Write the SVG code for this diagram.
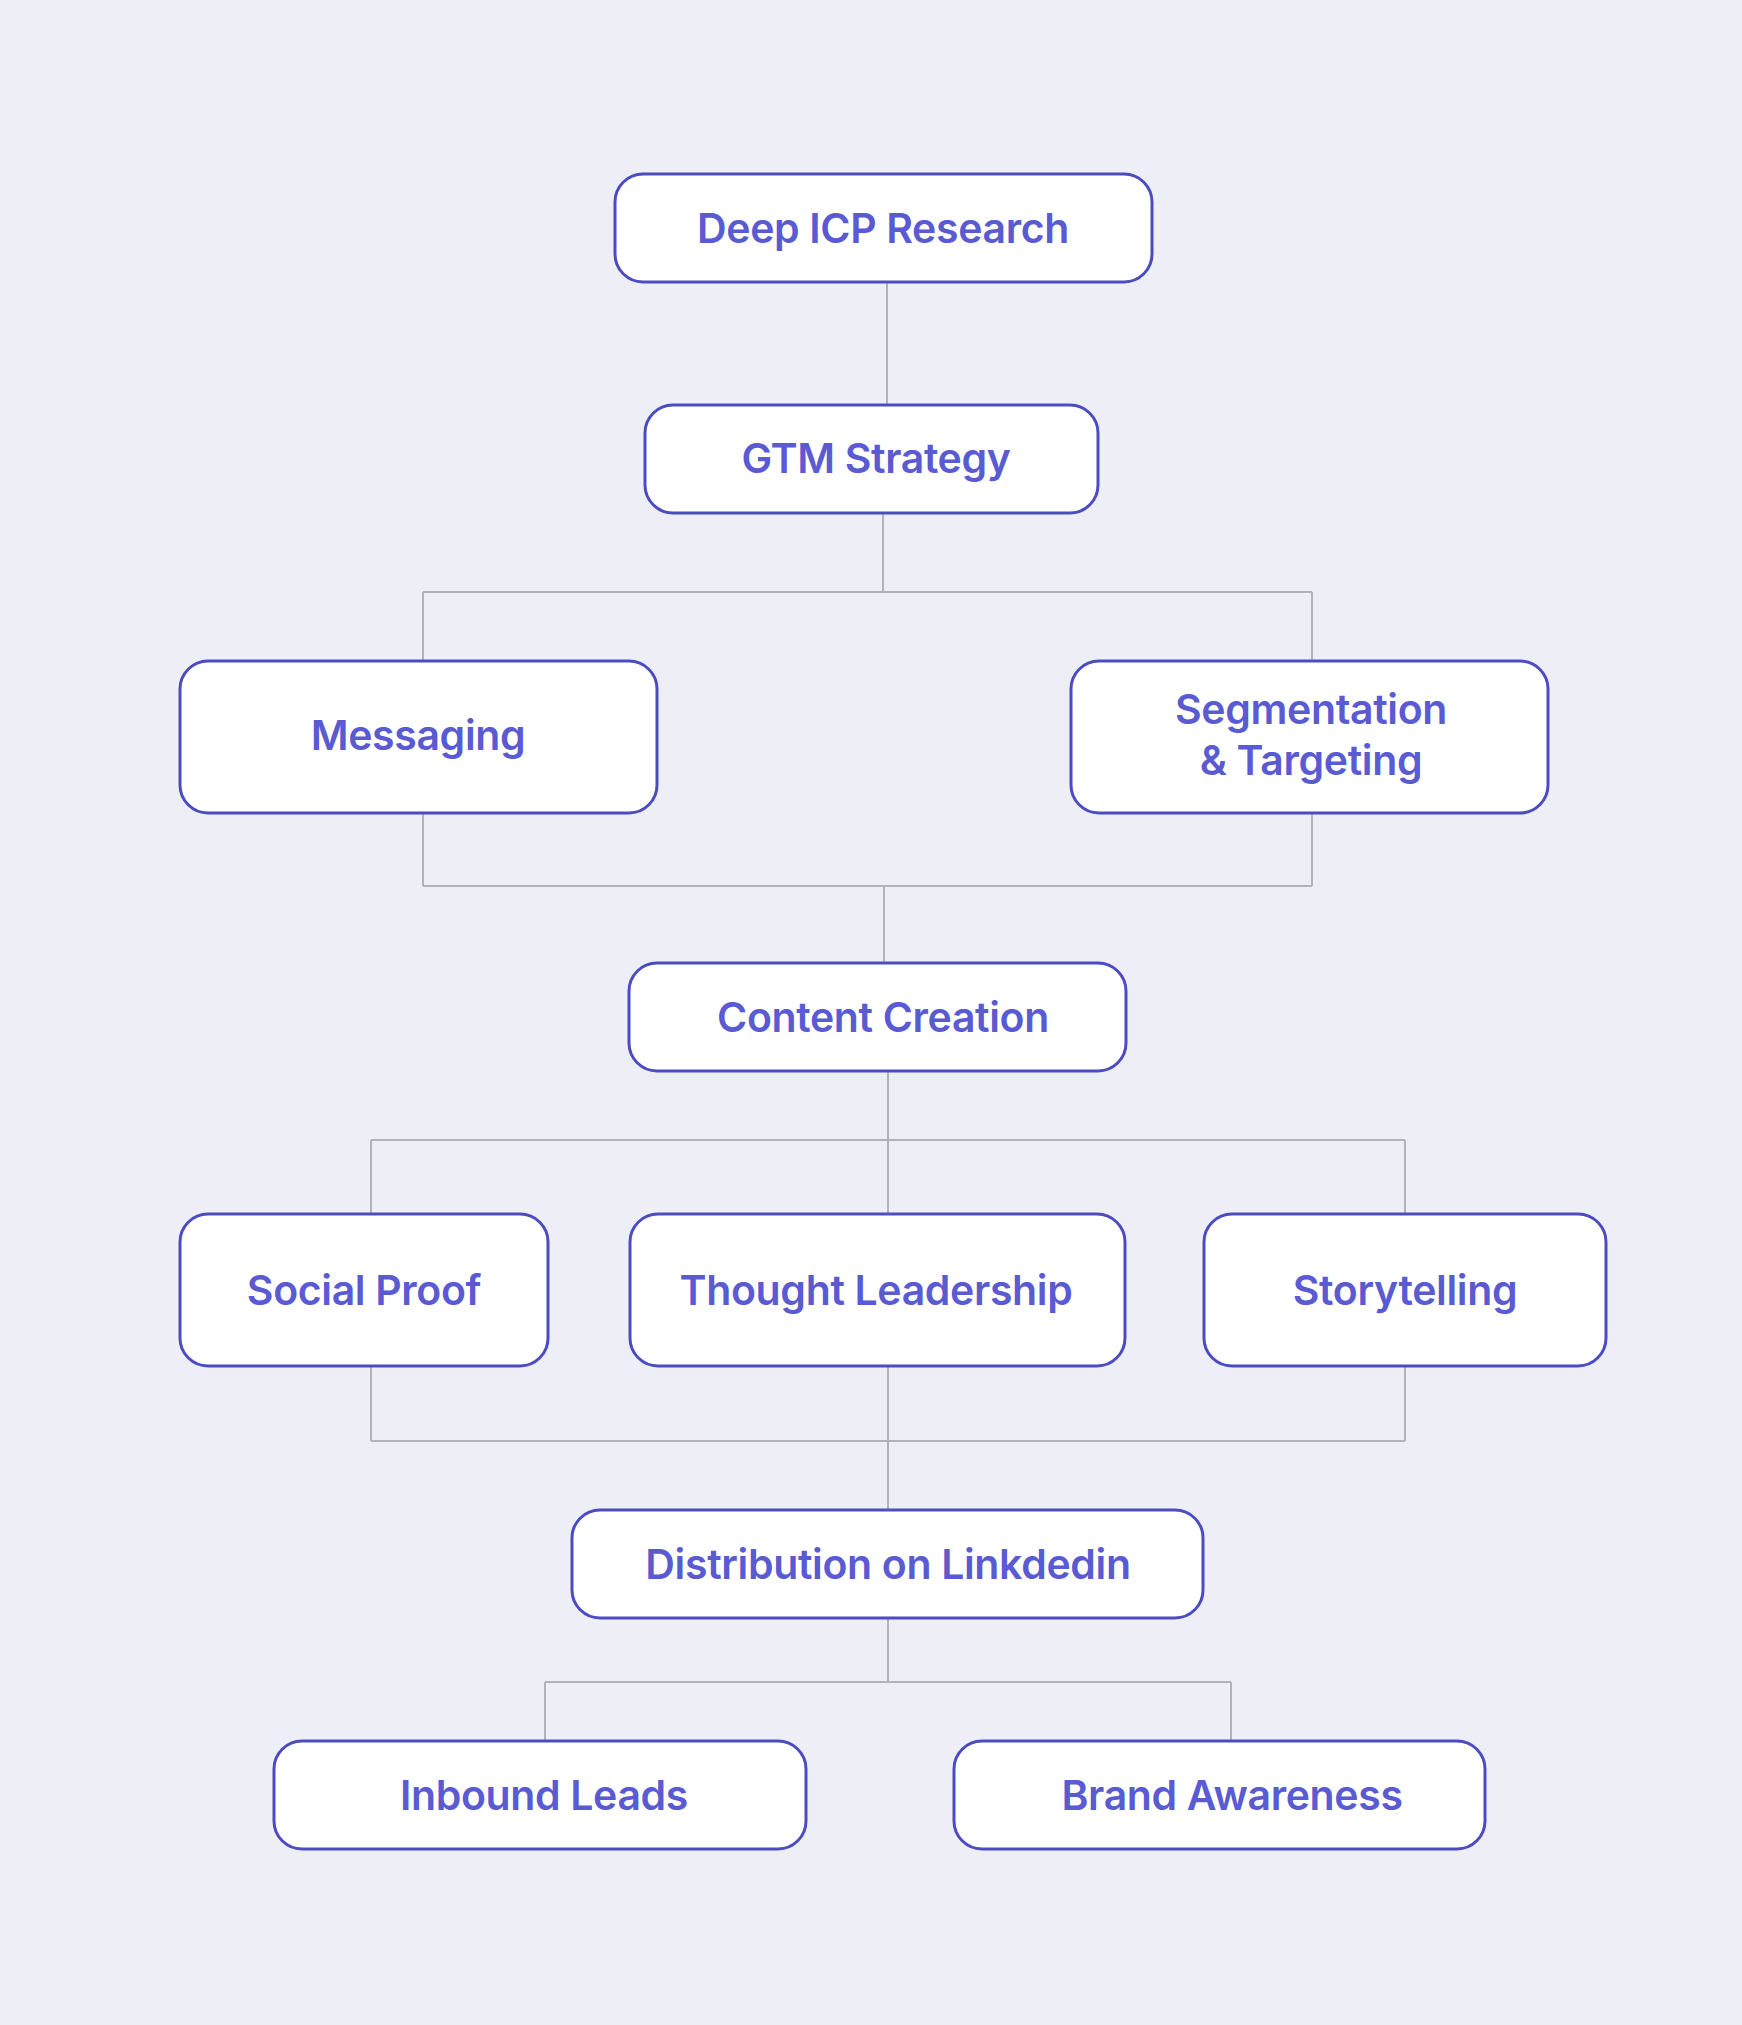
<svg xmlns="http://www.w3.org/2000/svg" width="1742" height="2025" viewBox="0 0 1742 2025">
<style>
.bg{fill:#eeeff6}
.node rect{fill:#ffffff;stroke:#4c4cc2;stroke-width:3}
.node text{font-family:Inter,"Noto Sans","Liberation Sans",sans-serif;font-weight:600;font-size:41px;letter-spacing:-0.35px;fill:#5a5ad2;text-anchor:middle}
#connectors path{fill:none;stroke:#b2b2ba;stroke-width:2}
</style>
<rect class="bg" x="0" y="0" width="1742" height="2025"/>
<g id="connectors">
<path d="M887 282 V405"/>
<path d="M883 513 V592 M423 592 H1312 M423 592 V661 M1312 592 V661"/>
<path d="M423 813 V886 M1312 813 V886 M423 886 H1312 M884 886 V963"/>
<path d="M888 1071 V1140 M371 1140 H1405 M371 1140 V1214 M888 1140 V1214 M1405 1140 V1214"/>
<path d="M371 1366 V1441 M888 1366 V1441 M1405 1366 V1441 M371 1441 H1405 M888 1441 V1510"/>
<path d="M888 1618 V1682 M545 1682 H1231 M545 1682 V1741 M1231 1682 V1741"/>
</g>
<g id="deep-icp" class="node"><rect x="615" y="174" width="537" height="108" rx="28"/><text x="883" y="243">Deep ICP Research</text></g>
<g id="gtm" class="node"><rect x="645" y="405" width="453" height="108" rx="28"/><text x="876" y="473">GTM Strategy</text></g>
<g id="messaging" class="node"><rect x="180" y="661" width="477" height="152" rx="28"/><text x="418" y="750">Messaging</text></g>
<g id="segmentation" class="node"><rect x="1071" y="661" width="477" height="152" rx="28"/><text x="1311" y="724">Segmentation</text><text x="1311" y="775">&amp; Targeting</text></g>
<g id="content" class="node"><rect x="629" y="963" width="497" height="108" rx="28"/><text x="883" y="1032">Content Creation</text></g>
<g id="social" class="node"><rect x="180" y="1214" width="368" height="152" rx="28"/><text x="364" y="1305">Social Proof</text></g>
<g id="thought" class="node"><rect x="630" y="1214" width="495" height="152" rx="28"/><text x="876" y="1305">Thought Leadership</text></g>
<g id="story" class="node"><rect x="1204" y="1214" width="402" height="152" rx="28"/><text x="1405" y="1305">Storytelling</text></g>
<g id="distribution" class="node"><rect x="572" y="1510" width="631" height="108" rx="28"/><text x="888" y="1579">Distribution on Linkdedin</text></g>
<g id="inbound" class="node"><rect x="274" y="1741" width="532" height="108" rx="28"/><text x="544" y="1810">Inbound Leads</text></g>
<g id="brand" class="node"><rect x="954" y="1741" width="531" height="108" rx="28"/><text x="1232" y="1810">Brand Awareness</text></g>
</svg>
